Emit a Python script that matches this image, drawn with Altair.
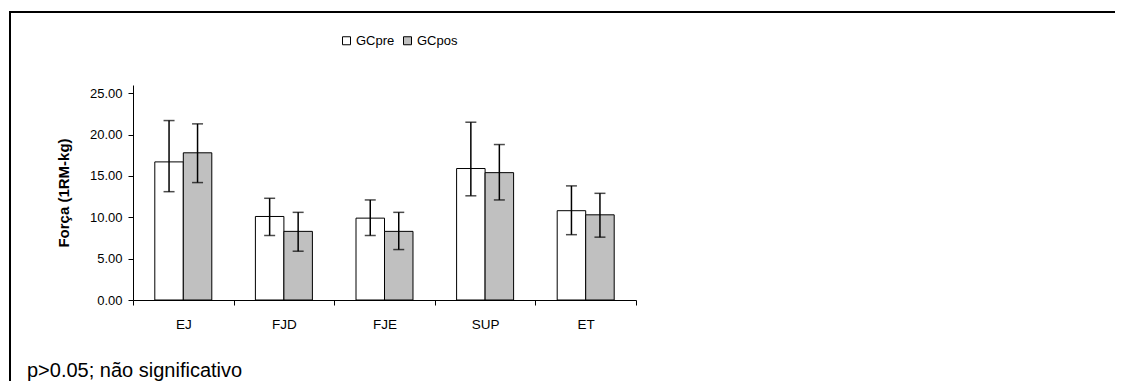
import altair as alt
import pandas as pd

categories = ["EJ", "FJD", "FJE", "SUP", "ET"]
groups = ["GCpre", "GCpos"]
pre_mean = [16.7, 10.1, 9.9, 15.9, 10.8]
pre_low = [13.1, 7.8, 7.8, 12.6, 7.9]
pre_high = [21.7, 12.3, 12.1, 21.5, 13.8]
pos_mean = [17.8, 8.3, 8.3, 15.4, 10.3]
pos_low = [14.2, 5.9, 6.1, 12.1, 7.6]
pos_high = [21.3, 10.6, 10.6, 18.8, 12.9]
y_ticks = [0, 5, 10, 15, 20, 25]
y_title = "Força (1RM-kg)"
footnote = "p>0.05; não significativo"

rows = []
for i, c in enumerate(categories):
    rows.append({"cat": c, "grp": "GCpre", "mean": pre_mean[i], "lo": pre_low[i], "hi": pre_high[i]})
    rows.append({"cat": c, "grp": "GCpos", "mean": pos_mean[i], "lo": pos_low[i], "hi": pos_high[i]})
df = pd.DataFrame(rows)

FONT = "Liberation Sans"
W, H = 503, 215

x_enc = alt.X("cat:N", sort=categories,
              scale=alt.Scale(paddingInner=0, paddingOuter=0),
              axis=alt.Axis(title=None, labelAngle=0, tickBand="extent",
                            labelFont=FONT, labelFontSize=13.5, labelColor="black",
                            labelPadding=12, tickSize=5, tickColor="black",
                            domainColor="black", grid=False))
xo_enc = alt.XOffset("grp:N", sort=groups,
                     scale=alt.Scale(domain=groups, paddingInner=0, paddingOuter=0.765))

base = alt.Chart(df)

bars = base.mark_bar(stroke="black", strokeWidth=1).encode(
    x=x_enc,
    xOffset=xo_enc,
    y=alt.Y("mean:Q", scale=alt.Scale(domain=[0, 25]),
            axis=alt.Axis(title=y_title, values=y_ticks, format=".2f",
                          labelFont=FONT, labelFontSize=13, labelColor="black",
                          labelPadding=6, tickSize=5, tickColor="black",
                          domainColor="black", grid=False,
                          titleFont=FONT, titleFontSize=15, titleFontWeight="bold",
                          titleColor="black", titleAngle=-90, titleX=-70,
                          titleY=H / 2, titleAlign="center", titleBaseline="middle")),
    fill=alt.Fill("grp:N", sort=groups,
                  scale=alt.Scale(domain=groups, range=["white", "#C0C0C0"]),
                  legend=alt.Legend(title=None, orient="none", legendX=207, legendY=-51,
                                    direction="horizontal", symbolType="square",
                                    symbolSize=64, symbolStrokeColor="black",
                                    symbolStrokeWidth=1, labelFont=FONT,
                                    labelFontSize=13, labelColor="black",
                                    columnPadding=6, labelOffset=3)),
)

err = base.mark_rule(color="black", strokeWidth=1.5).encode(
    x=alt.X("cat:N", sort=categories), xOffset=xo_enc,
    y=alt.Y("lo:Q"), y2="hi:Q")

cap_hi = base.mark_tick(color="black", thickness=1.5, size=11).encode(
    x=alt.X("cat:N", sort=categories), xOffset=xo_enc, y=alt.Y("hi:Q"))
cap_lo = base.mark_tick(color="black", thickness=1.5, size=11).encode(
    x=alt.X("cat:N", sort=categories), xOffset=xo_enc, y=alt.Y("lo:Q"))

one = pd.DataFrame({"t": [footnote]})
note = alt.Chart(one).mark_text(align="left", baseline="alphabetic", font=FONT,
                                fontSize=20, color="black").encode(
    text="t:N", x=alt.value(-106), y=alt.value(292))

border_top = alt.Chart(one).mark_rule(color="black", strokeWidth=2).encode(
    x=alt.value(-123), x2=alt.value(982), y=alt.value(-73))
border_left = alt.Chart(one).mark_rule(color="black", strokeWidth=2).encode(
    x=alt.value(-123), y=alt.value(-74), y2=alt.value(300))

chart = alt.layer(bars, err, cap_hi, cap_lo, note, border_top, border_left).properties(
    width=W, height=H,
    autosize=alt.AutoSizeParams(type="none"),
    padding={"left": 125, "top": 77, "right": 479, "bottom": 81},
    background="white",
).configure_view(stroke=None)

chart.save("out.html", embed_options={"renderer": "svg", "actions": False})
